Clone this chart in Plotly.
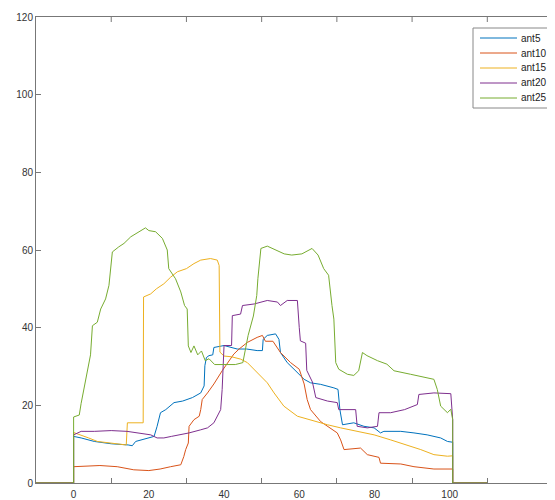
import plotly.graph_objects as go

# ---- data ----
ant5_x = [-10, 0, 0, 2, 5.5, 10, 14.5, 15.6, 16.5, 18, 20, 21.4, 22.2, 23.1, 24.5, 26.7, 29, 31.6, 33.8, 34.7, 34.9,
          35.3, 36, 37, 37.3, 40, 43.5, 46, 48.8, 50.2, 50.4, 51.5, 53.7, 54.6, 55, 56.8, 58.6, 61.3, 63, 65.7,
          69.2, 70.3, 70.8, 71.5, 74.5, 77.2, 79.9, 81.6, 82.5, 87, 90.5, 94, 97.6, 99.4, 100.8, 100.8, 110]
ant5_y = [0, 0, 12, 11.6, 10.7, 10.1, 9.8, 9.6, 10.7, 11.1, 11.6, 12, 14.6, 18.1, 18.9, 20.7, 21.1, 22, 23.2, 25, 30.2,
          32.3, 32.8, 33, 34.9, 35.4, 34.5, 34.5, 34.1, 34.1, 37, 38, 38.4, 37, 33.6, 31, 29.3, 26.7, 25.8, 25.4,
          24.5, 24.1, 18.9, 15.0, 15.5, 14.6, 14.2, 12.9, 13.3, 13.3, 12.9, 12.4, 11.6, 10.7, 10.5, 0, 0]

ant10_x = [-10, 0, 0, 7, 11.6, 16, 20, 23, 25.8, 28.5, 29.3, 29.8, 30.5, 30.7, 32, 33.4, 33.8, 34.2, 35.6, 37.3, 39.5,
           41.3, 42.6, 44, 46.2, 48.8, 50.2, 51, 53, 55, 57.7, 60, 61.3, 62.1, 63, 65.7, 67.5, 70.1, 71, 71.9, 76.3,
           78.1, 81.2, 81.6, 87, 90.5, 95.8, 100.8, 100.8, 110]
ant10_y = [0, 0, 4.2, 4.5, 4.2, 3.4, 3.2, 3.6, 4.2, 4.7, 6.8, 8.6, 10.3, 14.6, 16.3, 17.2, 18.9, 21.5, 23.2, 25.5, 28.9,
           31.5, 33.2, 34.5, 36.2, 37.5, 38, 36.5, 36.5, 33.6, 31, 29.3, 25.5, 21.5, 18.9, 15.8, 14.6, 12.9, 11.1, 8.6, 9,
           7.3, 6.6, 5.1, 4.9, 4.2, 3.6, 3.6, 0, 0]

ant15_x = [-10, 0, 0, 2, 4, 6.3, 10, 14, 14.3, 16.5, 18.5, 18.6, 20.5, 22, 24, 25.8, 27.6, 30, 32, 33.8, 36.4, 38.2,
           38.7, 38.9, 40, 42, 44.4, 46.2, 48.8, 51.5, 53.3, 55.9, 59.5, 63.9, 67.5, 71, 75.4, 79.9, 84.3, 88.7, 92.3,
           95.8, 99.4, 100.8, 100.8, 110]
ant15_y = [0, 0, 13, 12.4, 11.6, 10.7, 10.3, 9.8, 15.5, 15.5, 15.5, 47.9, 48.7, 50, 51.3, 53, 54.4, 55.2, 56.5, 57.4,
           57.8, 57.4, 56, 33.7, 32.7, 32.5, 31.9, 31, 28.4, 25.8, 23.2, 19.8, 17.2, 15.9, 15, 14.2, 13.3, 12.4, 11.1,
           9.8, 8.6, 7.3, 6.9, 7, 0, 0]

ant20_x = [-10, 0, 0, 2, 5.5, 10, 14.2, 17, 20.5, 22.2, 24, 26, 28.5, 30.7, 33.8, 35.6, 37.3, 39.1, 39.5, 40, 42,
           42.2, 44.4, 44.9, 48, 51.5, 54.2, 55, 56.8, 59.5, 60, 60.3, 61.7, 62, 63.5, 64.4, 67.5, 70.1, 70.5, 75,
           75.4, 78.1, 80.8, 81.2, 84.3, 88, 91.4, 91.8, 95.8, 100.3, 100.8, 100.8, 110]
ant20_y = [0, 0, 12.4, 13.3, 13.3, 13.5, 13.3, 12.9, 12.4, 11.6, 11.6, 12, 12.4, 12.9, 13.7, 14.2, 15.5, 18.9, 24.1,
           35.4, 35.4, 43.1, 43.5, 45.7, 46.1, 47, 46.6, 45.7, 47, 47, 40, 36.6, 36, 29, 26, 22, 21.1, 20.7, 18.9,
           18.9, 14.6, 14.2, 14.6, 18.1, 18.1, 18.9, 20.2, 22.8, 23.2, 23, 16.3, 0, 0]

ant25_x = [-10, 0, 0, 1.5, 2, 2.7, 3.5, 4.5, 5, 6.3, 7.2, 8.5, 9.4, 10.3, 12, 13.4, 15.2, 17.4, 19.1, 20, 21.8, 23.6,
           24.9, 25.3, 27.1, 28.5, 29.5, 30.2, 30.5, 31.2, 32, 33, 34, 35, 36, 37.5, 40, 43, 45, 46.4, 47.8, 48.7,
           49, 49.8, 51.5, 53, 54.5, 56, 58, 60.7, 63.4, 65, 66.5, 67.8, 68.7, 69.2, 69.7, 70.5, 72.8, 74.5, 75.8,
           76.8, 78, 80.8, 83.3, 85.2, 89.6, 94, 95.8, 96.7, 97.6, 99.4, 100.3, 100.8, 100.8, 110]
ant25_y = [0, 0, 17, 17.5, 20.5, 24, 29, 33, 40.5, 41.4, 44.8, 47.4, 50.9, 59.5, 60.8, 61.7, 63.4, 64.7, 65.7, 65,
           64.7, 63, 60, 55.2, 52.6, 49.2, 45.7, 44.8, 35.3, 33.6, 35.3, 33, 34, 31.5, 32, 30.5, 30.5, 30.5, 31, 38,
           43, 48.3, 52.6, 60.4, 61, 60.4, 59.6, 59, 58.7, 59, 60.4, 58.7, 55.2, 53.5, 45.7, 42.2, 31, 29.3, 28,
           27.7, 28.9, 33.6, 32.8, 31.5, 30.6, 28.9, 28, 27.1, 26.7, 24.1, 19.8, 18.1, 19, 16.3, 0, 0]

series_names = ["ant5", "ant10", "ant15", "ant20", "ant25"]
series_x = [ant5_x, ant10_x, ant15_x, ant20_x, ant25_x]
series_y = [ant5_y, ant10_y, ant15_y, ant20_y, ant25_y]
colors = ["#0072BD", "#D95319", "#EDB120", "#7E2F8E", "#77AC30"]

x_label_vals = [0, 20, 40, 60, 80, 100]
x_tick_marks = [10, 30, 50, 70, 90, 110]
y_tick_vals = [0, 20, 40, 60, 80, 100, 120]

# The page body adds an 8px margin, so the figure is sized to fill the rest of the window.
OFF = 8
W, H = 555 - OFF, 500 - OFF
# plot area in window pixels: x 36..555, y 17..483
ML, MR, MT, MB = 36 - OFF, 0, 17 - OFF, 500 - 483
PW, PH = W - ML - MR, H - MT - MB


def px(xs):  # window px -> paper x
    return (xs - OFF - ML) / PW


def py(ys):  # window px -> paper y
    return (H - MB - (ys - OFF)) / PH


fig = go.Figure()
for name, xs, ys, c in zip(series_names, series_x, series_y, colors):
    fig.add_trace(go.Scatter(x=xs, y=ys, mode="lines", name=name,
                             line=dict(color=c, width=1), showlegend=False))

axis_col = "#777777"

# top-edge tick marks (MATLAB box style)
shapes = [dict(type="line", xref="x", yref="paper", x0=t, x1=t, y0=1, y1=1 - 5 / PH,
               line=dict(color=axis_col, width=1)) for t in x_tick_marks]

# MATLAB-style legend: box, line samples and labels
shapes.append(dict(type="rect", xref="paper", yref="paper",
                   x0=px(473), x1=px(550), y0=py(108), y1=py(28),
                   line=dict(color="#888888", width=1), fillcolor="white", layer="above"))
annotations = []
for i, (name, c) in enumerate(zip(series_names, colors)):
    yy = 38 + i * 15
    shapes.append(dict(type="line", xref="paper", yref="paper",
                       x0=px(480), x1=px(517), y0=py(yy), y1=py(yy),
                       line=dict(color=c, width=1), layer="above"))
    annotations.append(dict(text=name, xref="paper", yref="paper",
                            x=px(519), y=py(yy), xanchor="left", yanchor="middle",
                            showarrow=False, font=dict(size=10, color="#222222")))

fig.update_layout(
    width=W, height=H, autosize=False,
    margin=dict(l=ML, r=MR, t=MT, b=MB, pad=0),
    paper_bgcolor="white", plot_bgcolor="white",
    font=dict(family="Liberation Sans, Arial, sans-serif", size=10, color="#333333"),
    showlegend=False,
    shapes=shapes,
    annotations=annotations,
    xaxis=dict(range=[-10, 128], showgrid=False, zeroline=False, automargin=False,
               showline=True, linecolor=axis_col, linewidth=1, mirror=True,
               tickmode="array", tickvals=x_label_vals, ticks="",
               ticklabelstandoff=2,
               minor=dict(tickmode="array", tickvals=x_tick_marks, ticks="inside",
                          ticklen=5, tickcolor=axis_col, showgrid=False)),
    yaxis=dict(range=[0, 120], showgrid=False, zeroline=False, automargin=False,
               showline=True, linecolor=axis_col, linewidth=1, mirror=False,
               tickmode="array", tickvals=y_tick_vals, ticks="inside",
               ticklen=5, tickcolor=axis_col),
)

fig.write_html("out.html")
